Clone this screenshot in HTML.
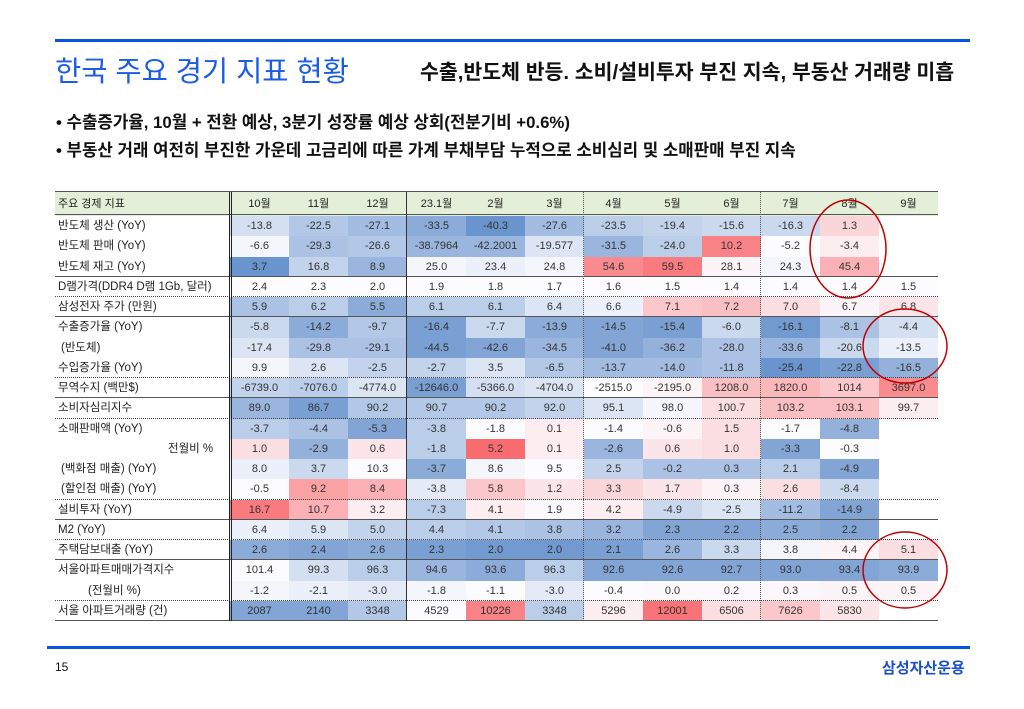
<!DOCTYPE html>
<html><head><meta charset="utf-8">
<style>
body{margin:0;width:1024px;height:709px;background:#fff;position:relative;overflow:hidden;font-family:"Liberation Sans","Noto Sans CJK KR",sans-serif;}
.a{position:absolute;}
.cell{position:absolute;box-sizing:border-box;text-align:center;font-size:11px;color:#333;line-height:20px;height:20.25px;white-space:nowrap;}
.lab{position:absolute;font-size:11.5px;color:#222;line-height:20px;white-space:nowrap;}
</style></head><body>
<div class="a" style="left:55px;top:39px;width:915px;height:3px;background:#0a55e0"></div>
<div class="a" style="left:55px;top:52px;font-size:28.5px;color:#1a5ce6;line-height:40px;">한국 주요 경기 지표 현황</div>
<div class="a" style="left:420px;top:59px;font-size:20.5px;color:#111;line-height:28px;font-weight:bold;">수출,반도체 반등. 소비/설비투자 부진 지속, 부동산 거래량 미흡</div>
<div class="a" style="left:56px;top:110px;font-size:16.8px;color:#111;font-weight:bold;line-height:26px;">• 수출증가율, 10월 + 전환 예상, 3분기 성장률 예상 상회(전분기비 +0.6%)</div>
<div class="a" style="left:56px;top:138px;font-size:16.8px;color:#111;font-weight:bold;line-height:26px;">• 부동산 거래 여전히 부진한 가운데 고금리에 따른 가계 부채부담 누적으로 소비심리 및 소매판매 부진 지속</div>
<div id="tbl" class="a" style="left:0;top:0;width:1024px;height:709px;"></div>
<div class="a" style="left:47px;top:646px;width:923px;height:3px;background:#0a55e0"></div>
<div class="a" style="left:55px;top:660px;font-size:12px;color:#111;">15</div>
<div class="a" style="left:882px;top:657px;font-size:15px;color:#1a4fd0;font-weight:bold;">삼성자산운용</div>
<svg class="a" style="left:0;top:0" width="1024" height="709">
<ellipse cx="848" cy="249" rx="38" ry="49" fill="none" stroke="#c00000" stroke-width="1.5"/>
<ellipse cx="905" cy="346" rx="42" ry="37" fill="none" stroke="#c00000" stroke-width="1.5"/>
<ellipse cx="905" cy="570" rx="42" ry="38" fill="none" stroke="#c00000" stroke-width="1.5"/>
</svg>
<script>
const months=["10월","11월","12월","23.1월","2월","3월","4월","5월","6월","7월","8월","9월"];
const labels=["반도체 생산 (YoY)","반도체 판매 (YoY)","반도체 재고 (YoY)","D램가격(DDR4 D램 1Gb, 달러)","삼성전자 주가 (만원)","수출증가율 (YoY)"," (반도체)","수입증가율 (YoY)","무역수지 (백만$)","소비자심리지수","소매판매액 (YoY)","전월비 %"," (백화점 매출) (YoY)"," (할인점 매출) (YoY)","설비투자 (YoY)","M2 (YoY)","주택담보대출 (YoY)","서울아파트매매가격지수","(전월비 %)","서울 아파트거래량 (건)"];
const labelIndent=[0,0,0,0,0,0,3,0,0,0,0,110,3,3,0,0,0,0,30,0];
const values=[
["-13.8","-22.5","-27.1","-33.5","-40.3","-27.6","-23.5","-19.4","-15.6","-16.3","1.3",""],
["-6.6","-29.3","-26.6","-38.7964","-42.2001","-19.577","-31.5","-24.0","10.2","-5.2","-3.4",""],
["3.7","16.8","8.9","25.0","23.4","24.8","54.6","59.5","28.1","24.3","45.4",""],
["2.4","2.3","2.0","1.9","1.8","1.7","1.6","1.5","1.4","1.4","1.4","1.5"],
["5.9","6.2","5.5","6.1","6.1","6.4","6.6","7.1","7.2","7.0","6.7","6.8"],
["-5.8","-14.2","-9.7","-16.4","-7.7","-13.9","-14.5","-15.4","-6.0","-16.1","-8.1","-4.4"],
["-17.4","-29.8","-29.1","-44.5","-42.6","-34.5","-41.0","-36.2","-28.0","-33.6","-20.6","-13.5"],
["9.9","2.6","-2.5","-2.7","3.5","-6.5","-13.7","-14.0","-11.8","-25.4","-22.8","-16.5"],
["-6739.0","-7076.0","-4774.0","-12646.0","-5366.0","-4704.0","-2515.0","-2195.0","1208.0","1820.0","1014","3697.0"],
["89.0","86.7","90.2","90.7","90.2","92.0","95.1","98.0","100.7","103.2","103.1","99.7"],
["-3.7","-4.4","-5.3","-3.8","-1.8","0.1","-1.4","-0.6","1.5","-1.7","-4.8",""],
["1.0","-2.9","0.6","-1.8","5.2","0.1","-2.6","0.6","1.0","-3.3","-0.3",""],
["8.0","3.7","10.3","-3.7","8.6","9.5","2.5","-0.2","0.3","2.1","-4.9",""],
["-0.5","9.2","8.4","-3.8","5.8","1.2","3.3","1.7","0.3","2.6","-8.4",""],
["16.7","10.7","3.2","-7.3","4.1","1.9","4.2","-4.9","-2.5","-11.2","-14.9",""],
["6.4","5.9","5.0","4.4","4.1","3.8","3.2","2.3","2.2","2.5","2.2",""],
["2.6","2.4","2.6","2.3","2.0","2.0","2.1","2.6","3.3","3.8","4.4","5.1"],
["101.4","99.3","96.3","94.6","93.6","96.3","92.6","92.6","92.7","93.0","93.4","93.9"],
["-1.2","-2.1","-3.0","-1.8","-1.1","-3.0","-0.4","0.0","0.2","0.3","0.5","0.5"],
["2087","2140","3348","4529","10226","3348","5296","12001","6506","7626","5830",""]
];
// color-scale level (-1 = deepest blue, +1 = deepest red)
const shades=[
[-.25,-.45,-.55,-.7,-.9,-.55,-.4,-.35,-.3,-.3,.25,0],
[-.05,-.5,-.45,-.6,-.6,-.2,-.6,-.4,.8,0,.1,0],
[-.9,-.35,-.6,-.05,-.1,-.05,.75,.85,.05,-.05,.5,0],
[0,0,0,0,0,0,0,0,0,0,0,0],
[-.5,-.4,-.7,-.4,-.4,-.2,-.1,.35,.4,.2,.05,.15],
[-.3,-.7,-.45,-.8,-.3,-.7,-.75,-.8,-.3,-.85,-.5,-.25],
[-.2,-.5,-.5,-.8,-.75,-.6,-.75,-.65,-.5,-.6,-.3,-.1],
[-.05,-.2,-.35,-.35,-.2,-.45,-.55,-.55,-.5,-.9,-.8,-.65],
[-.35,-.4,-.2,-.8,-.25,-.2,0,.05,.4,.45,.35,.75],
[-.6,-.8,-.45,-.45,-.45,-.35,-.2,-.05,.2,.4,.4,.1],
[-.4,-.5,-.75,-.4,0,.1,0,.05,.2,0,-.65,0],
[.2,-.65,.15,-.4,.95,.1,-.6,.15,.2,-.75,0,0],
[-.1,-.3,0,-.7,-.05,0,-.35,-.5,-.5,-.4,-.75,0],
[0,.6,.5,-.15,.35,.15,.25,.15,.05,.2,-.3,0],
[.85,.5,.1,-.4,.1,.02,.1,-.3,-.2,-.55,-.75,0],
[-.1,-.2,-.35,-.4,-.45,-.5,-.6,-.75,-.75,-.7,-.75,0],
[-.7,-.75,-.7,-.8,-.85,-.85,-.8,-.6,-.3,-.05,.05,.2],
[0,-.25,-.4,-.6,-.7,-.4,-.75,-.75,-.75,-.75,-.75,-.7],
[-.05,-.1,-.15,-.05,0,-.15,0,.02,.02,.03,.05,.05],
[-.75,-.75,-.45,0,.8,-.4,.1,.9,.2,.35,.15,0]
];
const X0=230,CW=59,Y0=216,RH=20.25,HT=192;
const xOf=c=>X0+c*CW, yOf=r=>Y0+r*RH;
function col(s){
  const W=[252,252,255],B=[90,136,200],R=[248,100,104];
  const t=Math.min(1,Math.abs(s)),T=s<0?B:R;
  return 'rgb('+W.map((w,i)=>Math.round(w+(T[i]-w)*t)).join(',')+')';
}
const tb=document.getElementById('tbl');
function div(cls,css,txt){const d=document.createElement('div');d.className=cls;d.style.cssText=css;if(txt!==undefined)d.textContent=txt;tb.appendChild(d);return d;}
const hb=div('a','left:55px;top:'+HT+'px;width:'+(xOf(12)-55)+'px;height:'+(Y0-HT)+'px;background:#e3efd9;');


const hl=div('lab','left:58px;top:'+(HT+2)+'px;font-size:11px;','주요 경제 지표');


months.forEach((m,c)=>{
  const d=div('cell','left:'+xOf(c)+'px;top:'+(HT+2)+'px;width:'+CW+'px;color:#222;',m);
  
  
});
labels.forEach((l,r)=>{
  const d=div('lab','left:'+(58+labelIndent[r])+'px;top:'+yOf(r)+'px;',l);
  
  
  values[r].forEach((v,c)=>{
    if(v==='')return;
    const e=div('cell','left:'+xOf(c)+'px;top:'+yOf(r)+'px;width:'+CW+'px;background:'+col(shades[r][c])+';',v);
    
    
  });
});
const hlines=[[0,'solid'],[3,'solid'],[4,'dotted'],[5,'solid'],[8,'dotted'],[9,'solid'],[10,'dotted'],[14,'dotted'],[15,'solid'],[16,'dotted'],[17,'solid'],[19,'dotted'],[20,'solid']];
hlines.forEach(([r,s])=>{
  const y=Math.round(yOf(r))-(r===0?1:0);
  const d=div('a','left:55px;top:'+(y-1)+'px;width:'+(xOf(12)-55)+'px;height:0;border-top:'+(s==='solid'?'1.5px solid #555':'1px dotted #444')+';');
  
  
});
const t0=div('a','left:55px;top:'+(HT-1)+'px;width:'+(xOf(12)-55)+'px;height:0;border-top:1.5px solid #555;');


const vlines=[[0,'double'],[3,'solid'],[6,'dotted'],[9,'dotted']];
vlines.forEach(([c,s])=>{
  const b=s==='double'?'3px double #222':s==='solid'?'1px solid #333':'1px dotted #555';
  const d=div('a','left:'+(xOf(c)-1)+'px;top:'+HT+'px;width:0;height:'+(yOf(20)-HT)+'px;border-left:'+b+';');
  
  
});
</script>
</body></html>
